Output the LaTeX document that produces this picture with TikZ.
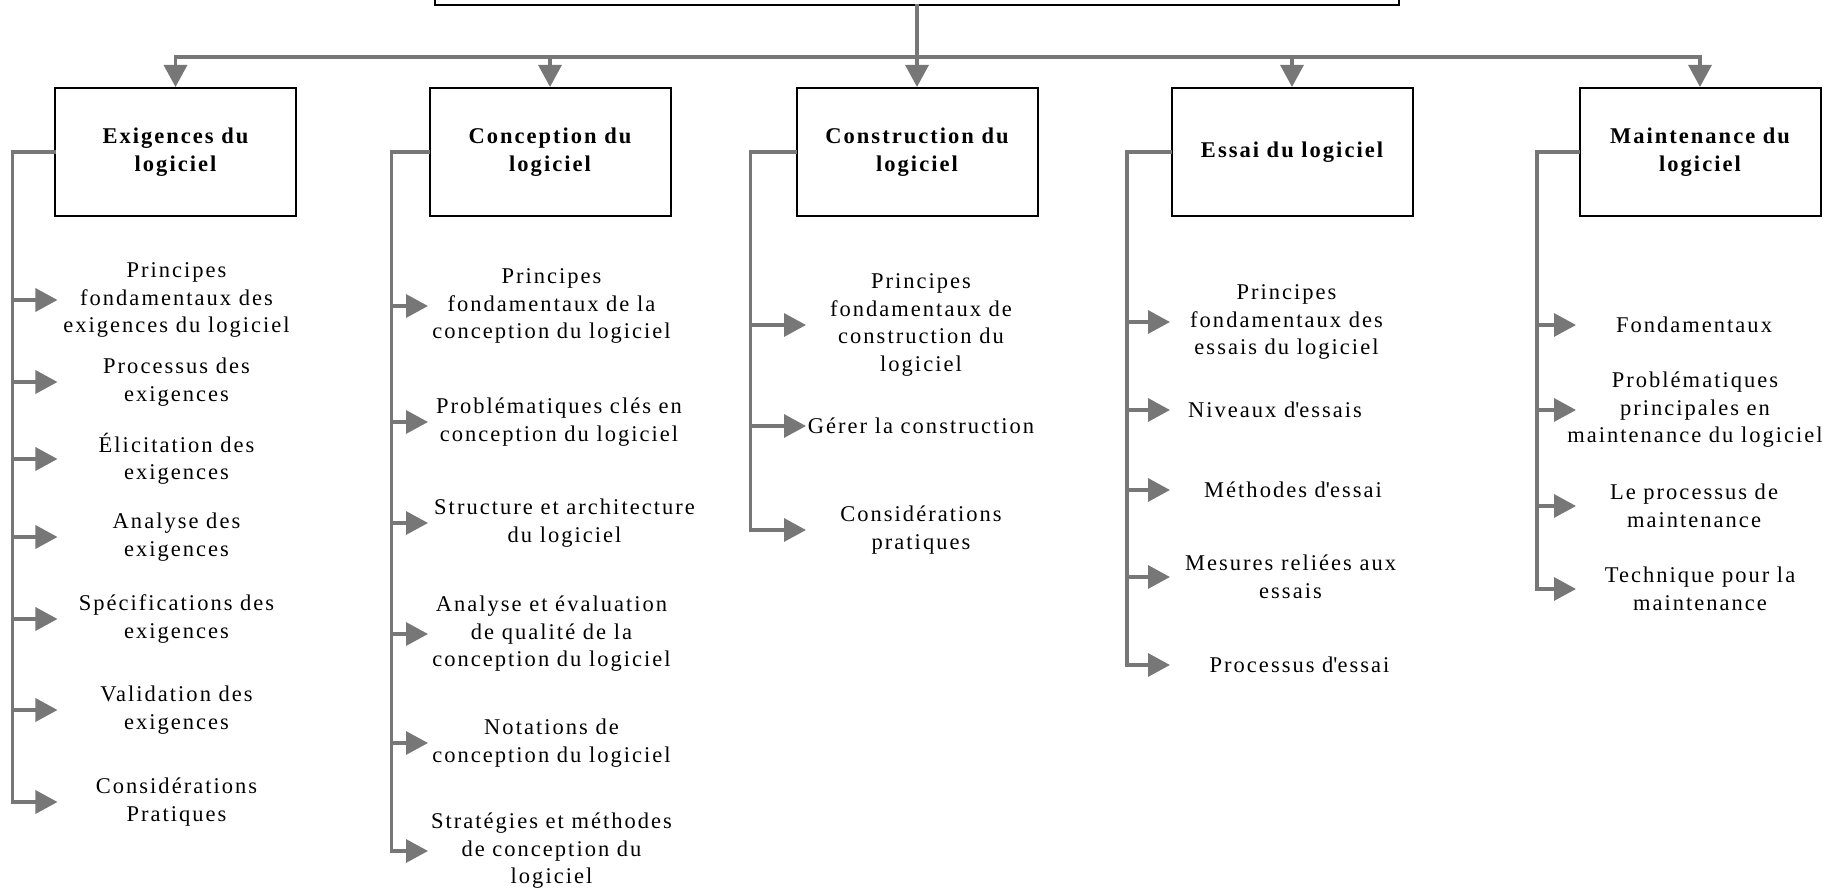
\documentclass[tikz,border=0pt]{standalone}
\usepackage{fontspec}
\setmainfont[LetterSpace=9]{Liberation Serif}
\usetikzlibrary{arrows.meta}
\definecolor{linegray}{HTML}{777777}
\tikzset{
  box/.style={draw, line width=0.04cm, minimum width=4.82cm, minimum height=2.56cm, align=center, font=\fontsize{12.8}{15.6}\selectfont\bfseries},
  item/.style={align=center, inner sep=0pt, font=\fontsize{12.8}{15.6}\selectfont},
  line/.style={draw=linegray, line width=0.065cm, line cap=rect},
  arr/.style={line, -{Triangle[length=0.44cm, width=0.46cm]}},
}
\begin{document}
\begin{tikzpicture}
  \clip (0,0) rectangle (36.88,17.78);
  % top and the five boxes
  \node [box, minimum width=19.28cm, minimum height=1.5cm] (0) at (18.34,18.43) {};
  \node [box] (1) at (3.51,14.74) {Exigences du\\logiciel};
  \node [box] (2) at (11.00,14.74) {Conception du\\logiciel};
  \node [box] (3) at (18.34,14.74) {Construction du\\logiciel};
  \node [box] (4) at (25.84,14.74) {Essai du logiciel};
  \node [box] (5) at (34.00,14.74) {Maintenance du\\logiciel};
  \coordinate (bus) at (0,16.64);
  \draw [arr] (0) -- (3);
  \draw [line] (1.north |- bus) -- (5.north |- bus);
  \draw [arr] (1.north |- bus) -- (1);
  \draw [arr] (2.north |- bus) -- (2);
  \draw [arr] (4.north |- bus) -- (4);
  \draw [arr] (5.north |- bus) -- (5);
  % items
  \node [item] (11) at (3.53,11.78) {Principes\\fondamentaux des\\exigences du logiciel};
  \node [item] (12) at (3.53,10.14) {Processus des\\exigences};
  \node [item] (13) at (3.53,8.60) {Élicitation des\\exigences};
  \node [item] (14) at (3.53,7.04) {Analyse des\\exigences};
  \node [item] (15) at (3.53,5.40) {Spécifications des\\exigences};
  \node [item] (16) at (3.53,3.58) {Validation des\\exigences};
  \node [item] (17) at (3.53,1.74) {Considérations\\Pratiques};
  \node [item] (21) at (11.03,11.66) {Principes\\fondamentaux de la\\conception du logiciel};
  \node [item] (22) at (11.18,9.34) {Problématiques clés en\\conception du logiciel};
  \node [item] (23) at (11.29,7.32) {Structure et architecture\\du logiciel};
  \node [item] (24) at (11.03,5.10) {Analyse et évaluation\\de qualité de la\\conception du logiciel};
  \node [item] (25) at (11.03,2.92) {Notations de\\conception du logiciel};
  \node [item] (26) at (11.03,0.76) {Stratégies et méthodes\\de conception du\\logiciel};
  \node [item] (31) at (18.42,11.28) {Principes\\fondamentaux de\\construction du\\logiciel};
  \node [item] (32) at (18.42,9.26) {Gérer la construction};
  \node [item] (33) at (18.42,7.18) {Considérations\\pratiques};
  \node [item] (41) at (25.73,11.34) {Principes\\fondamentaux des\\essais du logiciel};
  \node [item] (42) at (25.50,9.58) {Niveaux d\textquotesingle essais};
  \node [item] (43) at (25.86,7.98) {Méthodes d\textquotesingle essai};
  \node [item] (44) at (25.81,6.24) {Mesures reliées aux\\essais};
  \node [item] (45) at (25.99,4.48) {Processus d\textquotesingle essai};
  \node [item] (51) at (33.88,11.28) {Fondamentaux};
  \node [item] (52) at (33.90,9.58) {Problématiques\\principales en\\maintenance du logiciel};
  \node [item] (53) at (33.88,7.66) {Le processus de\\maintenance};
  \node [item] (54) at (34.00,6.00) {Technique pour la\\maintenance};
  % branch lines and arrows
  \coordinate (x1) at (0.25,0);  \coordinate (t1) at (1.15,0);
  \coordinate (x2) at (7.83,0);  \coordinate (t2) at (8.56,0);
  \coordinate (x3) at (15.01,0); \coordinate (t3) at (16.12,0);
  \coordinate (x4) at (22.54,0); \coordinate (t4) at (23.40,0);
  \coordinate (x5) at (30.74,0); \coordinate (t5) at (31.52,0);
  \draw [arr] (1) -| (x1 |- 17) -- (t1 |- 17);
  \draw [arr] (x1 |- 11) -- (t1 |- 11);
  \draw [arr] (x1 |- 12) -- (t1 |- 12);
  \draw [arr] (x1 |- 13) -- (t1 |- 13);
  \draw [arr] (x1 |- 14) -- (t1 |- 14);
  \draw [arr] (x1 |- 15) -- (t1 |- 15);
  \draw [arr] (x1 |- 16) -- (t1 |- 16);
  \draw [arr] (2) -| (x2 |- 26) -- (t2 |- 26);
  \draw [arr] (x2 |- 21) -- (t2 |- 21);
  \draw [arr] (x2 |- 22) -- (t2 |- 22);
  \draw [arr] (x2 |- 23) -- (t2 |- 23);
  \draw [arr] (x2 |- 24) -- (t2 |- 24);
  \draw [arr] (x2 |- 25) -- (t2 |- 25);
  \draw [arr] (3) -| (x3 |- 33) -- (t3 |- 33);
  \draw [arr] (x3 |- 31) -- (t3 |- 31);
  \draw [arr] (x3 |- 32) -- (t3 |- 32);
  \draw [arr] (4) -| (x4 |- 45) -- (t4 |- 45);
  \draw [arr] (x4 |- 41) -- (t4 |- 41);
  \draw [arr] (x4 |- 42) -- (t4 |- 42);
  \draw [arr] (x4 |- 43) -- (t4 |- 43);
  \draw [arr] (x4 |- 44) -- (t4 |- 44);
  \draw [arr] (5) -| (x5 |- 54) -- (t5 |- 54);
  \draw [arr] (x5 |- 51) -- (t5 |- 51);
  \draw [arr] (x5 |- 52) -- (t5 |- 52);
  \draw [arr] (x5 |- 53) -- (t5 |- 53);
\end{tikzpicture}
\end{document}
